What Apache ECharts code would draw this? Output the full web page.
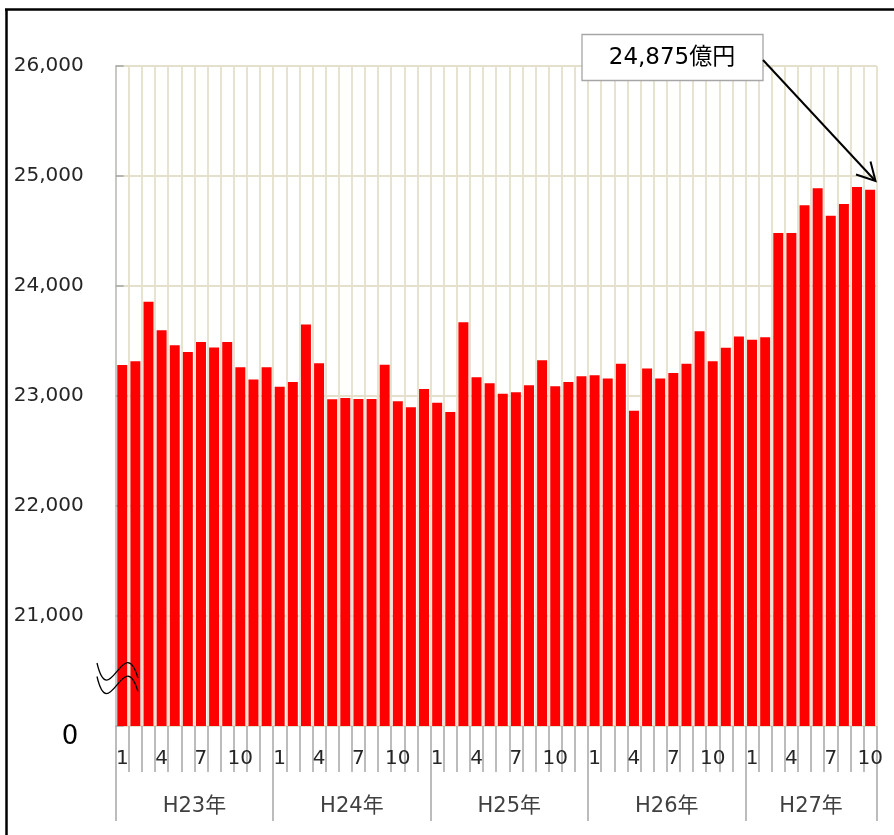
<!DOCTYPE html>
<html>
<head>
<meta charset="utf-8">
<script src="https://cdn.jsdelivr.net/npm/echarts@6/dist/echarts.min.js"></script>
<style>
html,body{margin:0;padding:0;background:#fff;}
#chart{width:894px;height:835px;}
</style>
</head>
<body>
<div id="chart"></div>
<script>
// ---- data ----
const years = ['H23年', 'H24年', 'H25年', 'H26年', 'H27年'];
const h23 = [23282, 23315, 23857, 23597, 23461, 23400, 23491, 23442, 23491, 23261, 23149, 23261];
const h24 = [23085, 23127, 23651, 23297, 22970, 22982, 22973, 22973, 23285, 22952, 22897, 23064];
const h25 = [22939, 22855, 23670, 23170, 23115, 23021, 23033, 23097, 23324, 23088, 23127, 23179];
const h26 = [23188, 23158, 23294, 22867, 23251, 23158, 23209, 23294, 23588, 23315, 23439, 23542];
const h27 = [23512, 23533, 24482, 24482, 24733, 24888, 24639, 24745, 24900, 24875];
const monthTickLabels = ['1', '4', '7', '10'];
const yMin = 20000, yMax = 26000, yStep = 1000;
const yBottomLabel = '0';
const calloutText = '24,875億円';

// ---- build ----
const yearData = [h23, h24, h25, h26, h27];
const categories = [];
const values = [];
const bounds = [0];
const mids = [];
yearData.forEach((arr, yi) => {
  const start = bounds[bounds.length - 1];
  arr.forEach((v, mi) => {
    categories.push(years[yi] + (mi + 1) + '月');
    values.push(v);
  });
  bounds.push(start + arr.length);
  mids.push(start + arr.length / 2);
});
const total = values.length;

const FONT = '"DejaVu Sans", "Noto Sans CJK JP", sans-serif';
const GRID = '#e4e0cc';
const AXIS = '#a6a6a6';

const chart = echarts.init(document.getElementById('chart'), null, {renderer: 'canvas'});

function fmtNum(v) {
  return String(v).replace(/\B(?=(\d{3})+(?!\d))/g, ',');
}

chart.setOption({
  animation: false,
  backgroundColor: '#fff',
  textStyle: {fontFamily: FONT},
  grid: {left: 115.7, right: 17.3, top: 66, bottom: 109, containLabel: false},
  xAxis: [
    {
      type: 'category',
      data: categories,
      boundaryGap: true,
      axisLine: {show: false},
      axisTick: {show: true, interval: 0, length: 46, lineStyle: {color: AXIS, width: 1.5}},
      splitLine: {show: true, interval: 0, lineStyle: {color: GRID, width: 1.8}},
      axisLabel: {
        interval: 0,
        margin: 23,
        fontSize: 20,
        color: '#262626',
        fontFamily: FONT,
        formatter: function (val, idx) {
          const m = String((idx - bounds[Math.floor(idx / 12)]) + 1);
          return monthTickLabels.indexOf(m) >= 0 ? m : '';
        }
      }
    },
    {
      type: 'value',
      min: 0,
      max: total,
      position: 'bottom',
      offset: 46,
      axisLine: {show: false},
      splitLine: {show: false},
      axisTick: {show: true, customValues: bounds, length: 49, lineStyle: {color: AXIS, width: 1.5}},
      axisLabel: {
        show: true,
        customValues: mids,
        margin: 24,
        fontSize: 21,
        color: '#404040',
        fontFamily: FONT,
        formatter: function (v) {
          const i = mids.indexOf(v);
          return i >= 0 ? years[i] : '';
        }
      }
    }
  ],
  yAxis: {
    type: 'value',
    min: yMin,
    max: yMax,
    interval: yStep,
    axisLine: {show: true, lineStyle: {color: '#bfbfbf', width: 1.5}},
    axisTick: {show: true, inside: true, length: 8, lineStyle: {color: AXIS, width: 1.5}},
    splitLine: {show: true, lineStyle: {color: GRID, width: 1.8}},
    axisLabel: {
      margin: 32,
      fontSize: 20,
      color: '#262626',
      fontFamily: FONT,
      formatter: function (v) { return v === yMin ? '' : fmtNum(v); }
    }
  },
  series: [{
    type: 'bar',
    data: values,
    xAxisIndex: 0,
    barCategoryGap: '24%',
    itemStyle: {color: '#ff0000'}
  }],
  graphic: [
    // outer frame
    {type: 'line', shape: {x1: 5, y1: 9.5, x2: 894, y2: 9.5}, style: {stroke: '#000', lineWidth: 2.5}, z: 100},
    {type: 'line', shape: {x1: 6.5, y1: 9, x2: 6.5, y2: 835}, style: {stroke: '#000', lineWidth: 2.5}, z: 100},
    // bottom "0" label
    {type: 'text', x: 70, y: 737, style: {text: yBottomLabel, fontSize: 26, fontFamily: FONT, fill: '#000', align: 'center', verticalAlign: 'middle'}, z: 100},
    // axis break marks
    {type: 'bezierCurve', shape: {x1: 97, y1: 663, cpx1: 109, cpy1: 714, cpx2: 124, cpy2: 630, x2: 138, y2: 678}, style: {stroke: '#000', lineWidth: 1.3, fill: null}, z: 100},
    {type: 'bezierCurve', shape: {x1: 97, y1: 676.5, cpx1: 109, cpy1: 727.5, cpx2: 124, cpy2: 643.5, x2: 138, y2: 691.5}, style: {stroke: '#000', lineWidth: 1.3, fill: null}, z: 100},
    // callout
    {type: 'rect', shape: {x: 582, y: 34.5, width: 181, height: 46}, style: {fill: '#fff', stroke: '#a6a6a6', lineWidth: 1.3}, z: 100},
    {type: 'text', x: 672, y: 58, style: {text: calloutText, fontSize: 23, fontFamily: FONT, fill: '#000', align: 'center', verticalAlign: 'middle'}, z: 101},
    {type: 'line', shape: {x1: 763, y1: 60, x2: 875, y2: 180.5}, style: {stroke: '#000', lineWidth: 2}, z: 101},
    {type: 'polyline', shape: {points: [[856, 174.5], [875.5, 181], [870.5, 161.5]]}, style: {stroke: '#000', lineWidth: 2, fill: null}, z: 101}
  ]
});
</script>
</body>
</html>
